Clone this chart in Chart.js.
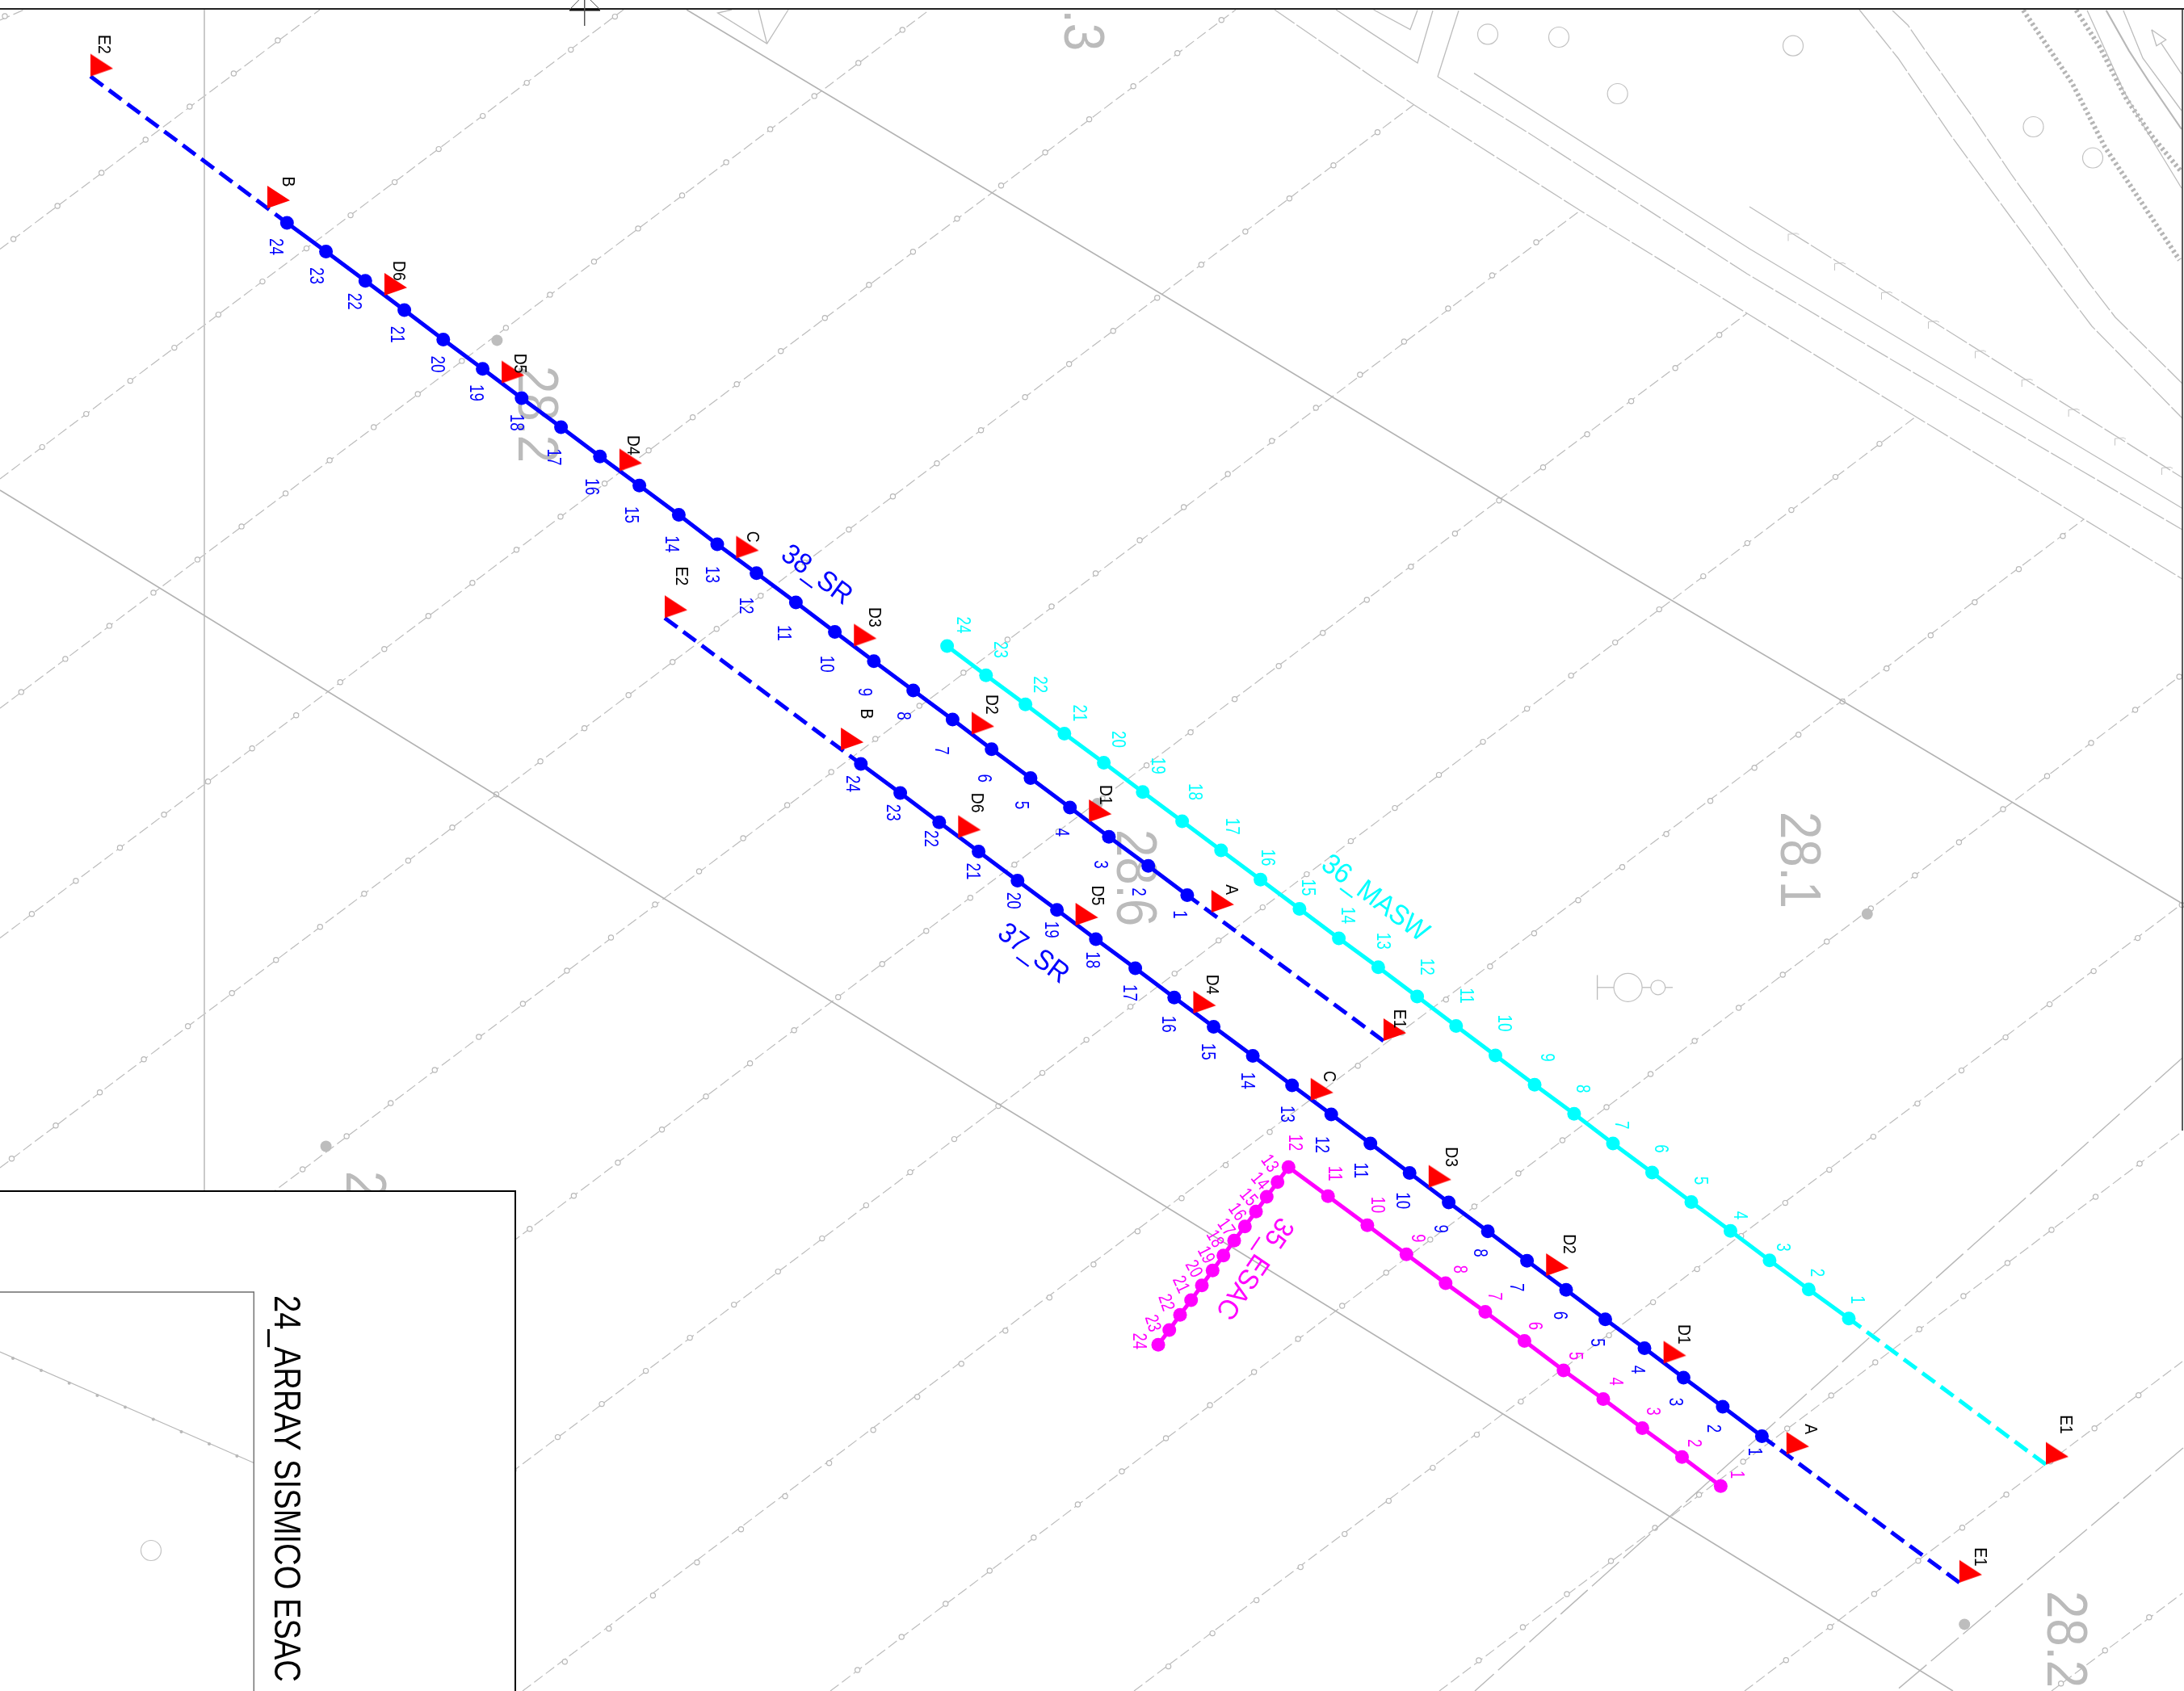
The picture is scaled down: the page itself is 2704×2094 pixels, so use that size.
<!DOCTYPE html>
<html><head><meta charset="utf-8">
<style>html,body{margin:0;padding:0;background:#fff}canvas{display:block}</style>
<script src="https://cdn.jsdelivr.net/npm/chart.js@4"></script>
</head><body><canvas id="c" width="2704" height="2094"></canvas>
<script>
// ---------- station numbers and seismic lines (station 1..24) ----------
const stationNumbers = ['1','2','3','4','5','6','7','8','9','10','11','12','13','14','15','16','17','18','19','20','21','22','23','24'];

const sr38X = [1469.9,1421.7,1372.9,1324.7,1275.9,1227.7,1179.4,1130.7,1081.9,1033.6,985.4,936.6,888,840.4,791.6,742.8,694.6,645.8,597.6,548.8,500.6,452.3,403.6,355.3];
const sr38Y = [1108.5,1072.3,1036.2,1000,963.4,927.7,891.1,854.9,818.8,782.6,746,709.8,673.9,637.5,601.3,565.2,529,492.9,456.7,420.5,383.9,347.8,311.6,275.9];
const sr38LabelX = [1461.3,1410.2,1363.1,1315.5,1265.6,1219.6,1166.2,1119.7,1071.5,1023.9,971.6,924.6,882.1,831.8,782.4,733.6,686,640,590.1,542.5,492,439.7,392.6,342];
const sr38LabelY = [1132.6,1104.5,1070.5,1030.8,996.9,963.8,929.5,886.6,857.1,822.3,783.9,750,711.6,673.7,637.5,602.7,566,523.2,486.6,450.9,414.3,373.2,341.5,305.4];

const sr37X = [2181.4,2132.9,2084.4,2036,1987.5,1939,1890.6,1842.1,1793.6,1745.2,1696.7,1648.2,1599.7,1551.1,1502.6,1453.8,1405.6,1356.8,1308.6,1259.8,1211.6,1162.8,1114.6,1065.8];
const sr37Y = [1778.5,1742,1706.1,1669.6,1633.7,1597.2,1561.3,1524.8,1488.9,1452.4,1416,1380,1344,1307.6,1271.4,1235.3,1199.1,1163,1126.8,1090.6,1054.5,1018.3,982.1,946];
const sr37LabelX = [2173.7,2122.1,2075.5,2028.3,1978,1932,1878.4,1833.2,1784.7,1736.9,1685.2,1637.4,1594,1545,1495.8,1447,1399.3,1352.8,1302.3,1255.2,1205.3,1153,1106.5,1056];
const sr37LabelY = [1797.7,1768.9,1736,1696,1662.5,1629.1,1594.2,1551.6,1521.8,1486.8,1449.4,1417.5,1379.5,1338.3,1302.2,1268.3,1229.5,1188.8,1151.3,1115.2,1079,1038.4,1006.3,970.5];

const masw36X = [2289,2239.4,2190.9,2142.5,2094,2045.5,1997,1948.9,1900,1851.5,1802.8,1754.6,1706.4,1657.6,1608.9,1560.6,1511.8,1463.6,1414.8,1366.6,1317.8,1269.6,1220.8,1172.6];
const masw36Y = [1632.7,1596.7,1560.8,1524.3,1488.4,1451.9,1416,1379.3,1343.2,1307,1270.5,1233.9,1197.8,1162,1125.4,1089.3,1053.1,1017,980.8,944.6,908.5,872.3,836.2,800];
const masw36LabelX = [2300.4,2250.3,2208.2,2155.2,2106.1,2057,2007.9,1960.3,1916.6,1863.2,1816.3,1767.5,1712.9,1669.7,1619.8,1569.8,1526.2,1480.3,1433.8,1385.5,1337.3,1287.9,1239.7,1193.2];
const masw36LabelY = [1609.5,1576,1544.6,1505,1462,1422.5,1393.2,1348.2,1309.4,1267,1233,1197.3,1165.2,1133.5,1099.1,1062,1023.2,980.4,948.2,915.6,883,847.8,804.5,774.1];

const esac35X = [2130.4,2082.5,2033.4,1985,1935.8,1887.4,1838.9,1789.8,1741.3,1692.9,1644.2,1595.3,1581.7,1568.3,1555,1541.3,1528,1514.7,1501.3,1488,1474.7,1461,1447.7,1434];
const esac35Y = [1840.3,1804.3,1768.4,1732.4,1697,1660.5,1624.6,1589.1,1553.2,1517.2,1481.2,1445.2,1463.7,1482,1500.3,1518.7,1536.3,1554.7,1573.3,1591.7,1610,1628.3,1647,1665.3];
const esac35LabelX = [2151.4,2098.5,2047.4,2000.9,1951.1,1900.8,1851.7,1808.3,1756,1706.3,1653.3,1604,1573,1560.7,1546.7,1532.7,1519,1505.3,1494.3,1479,1463.3,1445,1428.3,1411.7];
const esac35LabelY = [1826.1,1787.1,1747.6,1710.6,1679.2,1641.8,1605.3,1571.9,1533.4,1491.9,1453.3,1415,1440,1461.7,1481.7,1500,1519,1533.3,1553.3,1570.7,1590,1612.7,1638.3,1660.7];
const esac35LabelAngle = [90,90,90,90,90,90,90,90,90,90,90,90,55,50,50,55,55,60,63,62,65,72,73,90];

// ---------- geophone flags ----------
const flagNames38 = ['E2','B','D6','D5','D4','C','D3','D2','D1','A','E1'];
const flagX38 = [112,331,475.9,621.1,766.9,911.4,1057.2,1203,1348.2,1499.8,1712.9];
const flagY38 = [94.6,258,366,474.6,583.5,691.5,800.4,909.4,1017.9,1130,1289];
const flagLabelX38 = [129.7,357.6,494.8,645.2,785.3,932.6,1083.6,1228.8,1370,1525.6,1734];
const flagLabelY38 = [54.9,225,335.3,450,551.3,664.7,764.3,872.3,984.4,1101.8,1261.6];

const flagNames37 = ['E2','B','D6','D5','D4','C','D3','D2','D1','A','E1'];
const flagX37 = [823,1041.1,1186.3,1331.6,1477.4,1622.7,1768.8,1914.2,2059.6,2211.8,2425.9];
const flagY37 = [765.2,929,1037.5,1146,1254.9,1362.8,1470.6,1580,1688.4,1801.1,1959.8];
const flagLabelX37 = [844.8,1073.8,1210.5,1359.7,1501.5,1646.9,1798.1,1943.5,2085.7,2243,2453];
const flagLabelY37 = [713.4,883.9,994.2,1108.9,1219.2,1332.9,1432.7,1540.5,1652.4,1769.7,1928];

const flagNames36 = ['E1'];
const flagX36 = [2533];
const flagY36 = [1813.6];
const flagLabelX36 = [2559.2];
const flagLabelY36 = [1764];

// ---------- background map: fence lines (ends) with one reference post each ----------
const fenceStartX = [0,0,0,0,0,0,0,0,273,647,1028,1404,1782,2160,2540];
const fenceStartY = [25,308.5,593,877,1161.5,1446,1730,2015,2094,2094,2094,2094,2094,2094,2094];
const fenceEndX   = [30,396,772,1151,1530,1750,1956,2163,2372,2580,2702,2702,2702,2702,2702];
const fenceEndY   = [12,12,12,12,12,130,261,388,516,643,835,1119,1401,1686,1973];
const fencePostX  = [6,16.6,52.2,244.5,1239.5,1705.5,1902,2128.7,2327,2554,2316.3,2646.7,2540,2429.5,2660.8];
const fencePostY  = [20,296,553.6,692.9,229.7,163.7,300,414.7,549.6,663.8,1125,1161.6,1523,1891.7,2002.7];

const parcelLine1 = [[850,12],[1018,113],[1227,238],[1413,349],[1700,522],[1996,700],[2281,868],[2702,1119]];
const parcelLine2 = [[0,607],[152,700],[800,1099],[1208,1350],[1300,1406],[2300,2021],[2418,2094]];
const verticalLine = [[253,12],[253,1475]];
const roadEdge1 = [[1578,12],[1700,96],[1751,130],[1957,261],[2163,388],[2372,516],[2580,643],[2702,717]];
const roadEdge2 = [[1780,95],[1893,165],[2163,339],[2343,446],[2702,656]];
const roadEdge3 = [[1825,90.6],[2166,308],[2702,629.5]];
const ditchSolid = [[2166,256],[2214,286]];
const ditchDash = [[2214,286],[2702,591.5]];
const cornerA = [[1654,12],[1700,42.4],[1755,78],[1774,13]];
const cornerB = [[1780,95],[1806,13]];
const cornerC = [[1700.5,12],[1746,36.6],[1755,12.5]];
const wedgeA = [[906,12],[888.6,16],[949.6,54],[976,12]];
const wedgeB = [[939,12],[949.6,54]];
const curveA = [[2343,13],[2362,31],[2384,63],[2441,143],[2491,217],[2586,350],[2619,393],[2702,475]];
const curveB = [[2302,12],[2350,72],[2417,170],[2549,350],[2590,404],[2702,518]];
const hatchA = [[2505,12.7],[2565.5,103],[2606,182],[2698.5,322]];
const hatchB = [[2570.5,12.7],[2599,57],[2633,123],[2663,167],[2701,213]];
const kerbA = [[2584,12.7],[2601,50],[2629.5,113],[2654.7,157],[2701,233]];
const kerbB = [[2607.6,12.7],[2636,63],[2660,100],[2701,160]];
const kerbC = [[2628.8,12.7],[2653,72],[2701,137]];
const arrowHead = [[2663.8,36.7],[2681.7,49.3],[2669.9,56.7],[2663.8,36.7]];
const arrowShaft = [[2675.6,53.3],[2701,91.7]];
const longDash1 = [[2702,1310],[2315,1656],[2084,1863],[1826,2094]];
const longDash2 = [[2703,1793],[2347,2094]];
const symbolBar = [[1977.6,1207.6],[1977.6,1238]];
const symbolStem1 = [[1977.6,1222.8],[1998,1222.8]];
const symbolStem2 = [[2033,1222.8],[2044,1222.8]];
const symbolStem3 = [[2062,1222.8],[2071,1222.8]];

const treeX = [1842,1930,2220,2002.7,2517.5,2591,187];
const treeY = [42.4,46,56.7,116,157,195.5,1920];
const spotX = [615.4,1358.6,403.6,286.2,2311.8,2432.2];
const spotY = [421.4,995,1419.5,1891,1131.7,2011.4];
const tickX = [2220.5,2278,2336,2394,2452,2509.7,2567.6,2625,2683];
const tickY = [291.5,328,364,400,436.6,472,509,544.6,581];
const symbolCircleX = [2015.6];
const symbolCircleY = [1222.8];
const symbolSmallX = [2052.8];
const symbolSmallY = [1222.8];

// ---------- grey spot heights ----------
const heightText = ['28.2','28.6','28.1','28.2','28.3','28.2'];
const heightX = [667,1408,2230,2560,1343.5,454];
const heightY = [513,1087,1065,2030,3,1510];

// ---------- frame and title block ----------
const frameTop = [[0,11],[2704,11]];
const frameRight = [[2702,11],[2702,1400]];
const titleBox = [[0,1475],[638,1475],[638,2094]];
const innerBox = [[0,1600],[314.3,1600],[314.3,2094]];
const boxPath = [[0,1674],[314.3,1811.5]];
const boxPathDotX = [16,51,85.7,120.4,155,189.8,224.5,259,293.4];
const boxPathDotY = [1682,1697,1712.8,1727.9,1742.5,1757.5,1773,1788,1803];
const titleText = '24_ARRAY SISMICO ESAC';
const compassStem = [[723.7,0],[723.7,32]];
const compassA = [[716.7,0],[705,12]];
const compassB = [[731,0],[743,12]];
const compassBase = [[705,12],[743,12]];

const seriesTitles = ['38_SR','37_SR','36_MASW','35_ESAC'];
const seriesTitleX = [1012.5,1280.6,1703.8,1555];
const seriesTitleY = [710.3,1179,1110.6,1571.7];
const seriesTitleAngle = [36.7,36.7,36.7,124];

// ---------- colours ----------
const BLUE='#0000ff',CYAN='#00ffff',MAGENTA='#ff00ff',RED='#ff0000',GREY='#bdbdbd',GREY2='#b3b3b3';

// ---------- helpers ----------
const zip=(xs,ys)=>xs.map((x,i)=>({x,y:ys[i]}));
const pts=a=>a.map(p=>({x:p[0],y:p[1]}));
function poly(a,color,width,dash,order){return {type:'scatter',showLine:true,data:pts(a),borderColor:color,borderWidth:width,borderDash:dash||[],pointRadius:0,order:order===undefined?30:order,tension:0,fill:false,borderCapStyle:'butt'};}
function marks(data,style,r,bg,bc,bw,order){return {type:'scatter',showLine:false,data,pointStyle:style,pointRadius:r,pointHoverRadius:r,pointBackgroundColor:bg,pointBorderColor:bc,pointBorderWidth:bw,order};}
function flagCanvas(){const c=document.createElement('canvas');c.width=60;c.height=60;const g=c.getContext('2d');g.fillStyle=RED;g.beginPath();g.moveTo(30,30);g.lineTo(30,2);g.lineTo(58,20.2);g.closePath();g.fill();return c;}
function tickCanvas(){const c=document.createElement('canvas');c.width=40;c.height=40;const g=c.getContext('2d');g.strokeStyle='#c4c4c4';g.lineWidth=1;g.beginPath();g.moveTo(13.5,27);g.lineTo(13.5,18.5);g.lineTo(24,17.5);g.lineTo(27,19);g.stroke();return c;}
const flag=flagCanvas(),tick=tickCanvas();

function seismic(xs,ys,color){return {type:'scatter',showLine:true,data:zip(xs,ys),borderColor:color,borderWidth:5,pointRadius:8.5,pointHoverRadius:8.5,pointBackgroundColor:color,pointBorderColor:color,pointBorderWidth:0,order:4,tension:0,fill:false};}
function dashed(x0,y0,x1,y1,color){return {type:'scatter',showLine:true,data:[{x:x0,y:y0},{x:x1,y:y1}],borderColor:color,borderWidth:5,borderDash:[19.5,9],pointRadius:0,order:5,tension:0,fill:false,borderCapStyle:'butt'};}

const datasets=[];
// fences
fenceStartX.forEach((x,i)=>{const d=poly([[x,fenceStartY[i]],[fenceEndX[i],fenceEndY[i]]],'#bcbcbc',1.2,[13,5],32);d.fencePost=[fencePostX[i],fencePostY[i]];datasets.push(d);});
// map lines
datasets.push(poly(parcelLine1,GREY2,1.5),poly(parcelLine2,GREY2,1.5),poly(verticalLine,'#cacaca',2));
[roadEdge1,roadEdge2,curveA,curveB,ditchDash].forEach(a=>datasets.push(poly(a,'#bcbcbc',1.3,[30,3])));
[roadEdge3,ditchSolid,cornerA,cornerB,cornerC,wedgeA,wedgeB,arrowHead,arrowShaft,kerbA,kerbC,symbolBar,symbolStem1,symbolStem2,symbolStem3].forEach(a=>datasets.push(poly(a,'#bcbcbc',1.3)));
datasets.push(poly(kerbB,'#b8b8b8',2.2));
[hatchA,hatchB].forEach(a=>datasets.push(poly(a,'#b5b5b5',6,[3,3.5])));
[longDash1,longDash2].forEach(a=>datasets.push(poly(a,'#b8b8b8',1.4,[45,7])));
datasets.push(marks(zip(tickX,tickY),tick,10,'#fff','#fff',0,28));
datasets.push(marks(zip(spotX,spotY),'circle',7,'#bdbdbd','#bdbdbd',0,28));
datasets.push(marks(zip(symbolCircleX,symbolCircleY),'circle',17.5,'#fff','#c0c0c0',1.2,28));
datasets.push(marks(zip(symbolSmallX,symbolSmallY),'circle',9,'#fff','#c0c0c0',1.2,28));
// title block
const box=poly(titleBox,'#000',2,[],20);box.fill={value:2094};box.backgroundColor='#fff';datasets.push(box);
datasets.push(poly(innerBox,'#6e6e6e',1.4,[],12),poly(boxPath,'#b8b8b8',1.2,[],12));
datasets.push(marks(zip(boxPathDotX,boxPathDotY),'circle',2,'#b8b8b8','#b8b8b8',0,11));
datasets.push(marks(zip(treeX,treeY),'circle',12.5,'#fff','#c2c2c2',1.2,11));
// frame
datasets.push(poly(frameTop,'#222',2,[],10),poly(frameRight,'#333',1.6,[],10));
datasets.push(poly(compassStem,'#555',1,[],9),poly(compassA,'#555',1,[],9),poly(compassB,'#555',1,[],9),poly(compassBase,'#111',3,[],9));
// seismic arrays
datasets.push(dashed(flagX38[0],flagY38[0],sr38X[23],sr38Y[23],BLUE),dashed(flagX38[10],flagY38[10],sr38X[0],sr38Y[0],BLUE));
datasets.push(dashed(flagX37[0],flagY37[0],sr37X[23],sr37Y[23],BLUE),dashed(flagX37[10],flagY37[10],sr37X[0],sr37Y[0],BLUE));
datasets.push(dashed(flagX36[0],flagY36[0],masw36X[0],masw36Y[0],CYAN));
datasets.push(seismic(sr38X,sr38Y,BLUE),seismic(sr37X,sr37Y,BLUE),seismic(masw36X,masw36Y,CYAN),seismic(esac35X,esac35Y,MAGENTA));
datasets.push(marks(zip(flagX38,flagY38),flag,10,RED,RED,0,1),marks(zip(flagX37,flagY37),flag,10,RED,RED,0,1),marks(zip(flagX36,flagY36),flag,10,RED,RED,0,1));

function drawText(chart,text,x,y,angle,size,sx,color){
  const c=chart.ctx,px=chart.scales.x.getPixelForValue(x),py=chart.scales.y.getPixelForValue(y);
  c.save();c.translate(px,py);c.rotate(angle*Math.PI/180);c.scale(sx,1);
  c.font=size+'px "Liberation Sans", Arial, sans-serif';c.fillStyle=color;c.textAlign='center';c.textBaseline='alphabetic';
  c.fillText(text,0,size*0.358);c.restore();
}
const mapPlugin={
  id:'mapPlugin',
  beforeDatasetsDraw(chart){
    heightText.forEach((t,i)=>drawText(chart,t,heightX[i],heightY[i],90,71,0.87,'#bbbbbb'));
    const c=chart.ctx;c.save();c.fillStyle='#fff';c.fillRect(0,0,2704,11);c.restore();
  },
  afterDatasetDraw(chart,args){
    const d=chart.data.datasets[args.index];
    if(!d.fencePost)return;
    const a=d.data[0],b=d.data[1],c=chart.ctx,sx=chart.scales.x,sy=chart.scales.y;
    const x0=Math.min(a.x,b.x),x1=Math.max(a.x,b.x),y0=Math.min(a.y,b.y),y1=Math.max(a.y,b.y);
    c.save();c.strokeStyle='#b8b8b8';c.fillStyle='#fff';c.lineWidth=1.2;
    for(let k=-60;k<=60;k++){
      const x=d.fencePost[0]+k*54.55,y=d.fencePost[1]-k*41;
      if(x<x0||x>x1||y<y0||y>y1)continue;
      c.beginPath();c.arc(sx.getPixelForValue(x),sy.getPixelForValue(y),3.1,0,Math.PI*2);c.fill();c.stroke();
    }
    c.restore();
  },
  afterDatasetsDraw(chart){
    stationNumbers.forEach((t,i)=>{
      drawText(chart,t,sr38LabelX[i],sr38LabelY[i],90,23,0.82,BLUE);
      drawText(chart,t,sr37LabelX[i],sr37LabelY[i],90,23,0.82,BLUE);
      drawText(chart,t,masw36LabelX[i],masw36LabelY[i],90,23,0.82,CYAN);
      drawText(chart,t,esac35LabelX[i],esac35LabelY[i],esac35LabelAngle[i],23,0.8,MAGENTA);
    });
    flagNames38.forEach((t,i)=>drawText(chart,t,flagLabelX38[i],flagLabelY38[i],90,22,0.88,'#000'));
    flagNames37.forEach((t,i)=>drawText(chart,t,flagLabelX37[i],flagLabelY37[i],90,22,0.88,'#000'));
    flagNames36.forEach((t,i)=>drawText(chart,t,flagLabelX36[i],flagLabelY36[i],90,22,0.88,'#000'));
    const colors=[BLUE,BLUE,CYAN,MAGENTA];
    seriesTitles.forEach((t,i)=>drawText(chart,t,seriesTitleX[i],seriesTitleY[i],seriesTitleAngle[i],35,0.93,colors[i]));
    drawText(chart,titleText,356,1843.5,90,46,0.83,'#000');
  }
};

new Chart(document.getElementById('c'),{
  type:'scatter',
  data:{datasets},
  plugins:[mapPlugin],
  options:{
    responsive:false,animation:false,devicePixelRatio:1,
    layout:{padding:0,autoPadding:false},
    plugins:{legend:{display:false},tooltip:{enabled:false}},
    scales:{
      x:{type:'linear',min:0,max:2704,display:false},
      y:{type:'linear',min:0,max:2094,reverse:true,display:false}
    }
  }
});
</script></body></html>
